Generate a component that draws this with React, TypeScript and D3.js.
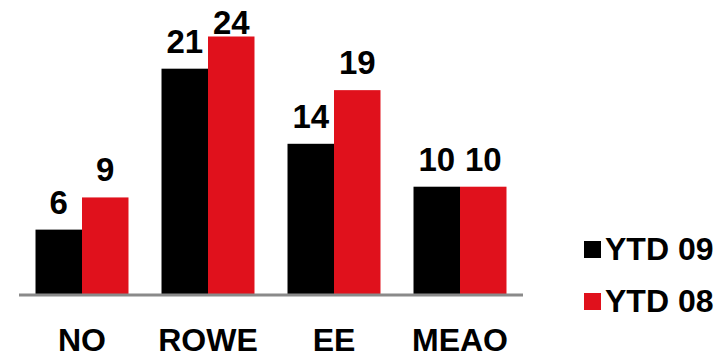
import React from "react";
import * as d3 from "d3";

const categories = ["NO", "ROWE", "EE", "MEAO"];
const seriesNames = ["YTD 09", "YTD 08"];
const ytd09 = [6, 21, 14, 10];
const ytd08 = [9, 24, 19, 10];
const colors = ["#000000", "#E0111C"];

const W = 728;
const H = 356;
const FONT = "'Liberation Sans', Arial, sans-serif";

export default function App() {
  const x = d3
    .scaleBand<string>()
    .domain(categories)
    .range([19, 523])
    .paddingInner(0.262)
    .paddingOuter(0.131);
  const xs = d3
    .scaleBand<string>()
    .domain(seriesNames)
    .range([0, x.bandwidth()]);
  const y = d3.scaleLinear().domain([0, 24]).range([294, 36.5]);
  const series = [ytd09, ytd08];

  return (
    <svg
      width={W}
      height={H}
      style={{ position: "absolute", left: 0, top: 0, background: "#fff" }}
      fontFamily={FONT}
    >
      {categories.map((c, i) => (
        <g key={c} transform={`translate(${x(c)},0)`}>
          {series.map((s, j) => {
            const v = s[i];
            const bx = xs(seriesNames[j]) as number;
            const bw = xs.bandwidth();
            const top = y(v);
            const labelY = Math.max(top - 16, 33.5);
            return (
              <g key={j}>
                <rect x={bx} y={top} width={bw} height={y(0) - top} fill={colors[j]} />
                <text
                  x={bx + bw / 2}
                  y={labelY}
                  textAnchor="middle"
                  fontSize={33}
                  fontWeight="bold"
                  fill="#000"
                >
                  {v}
                </text>
              </g>
            );
          })}
          <text
            x={x.bandwidth() / 2}
            y={351}
            textAnchor="middle"
            fontSize={32}
            fontWeight="bold"
            fill="#000"
          >
            {c}
          </text>
        </g>
      ))}
      <rect x={19} y={293.5} width={504} height={3} fill="#8a8a8a" />
      {seriesNames.map((n, j) => (
        <g key={n} transform={`translate(584,${241 + j * 52})`}>
          <rect x={0} y={0} width={17} height={17} fill={colors[j]} />
          <text x={21} y={19} fontSize={32} fontWeight="bold" fill="#000">
            {n}
          </text>
        </g>
      ))}
    </svg>
  );
}
